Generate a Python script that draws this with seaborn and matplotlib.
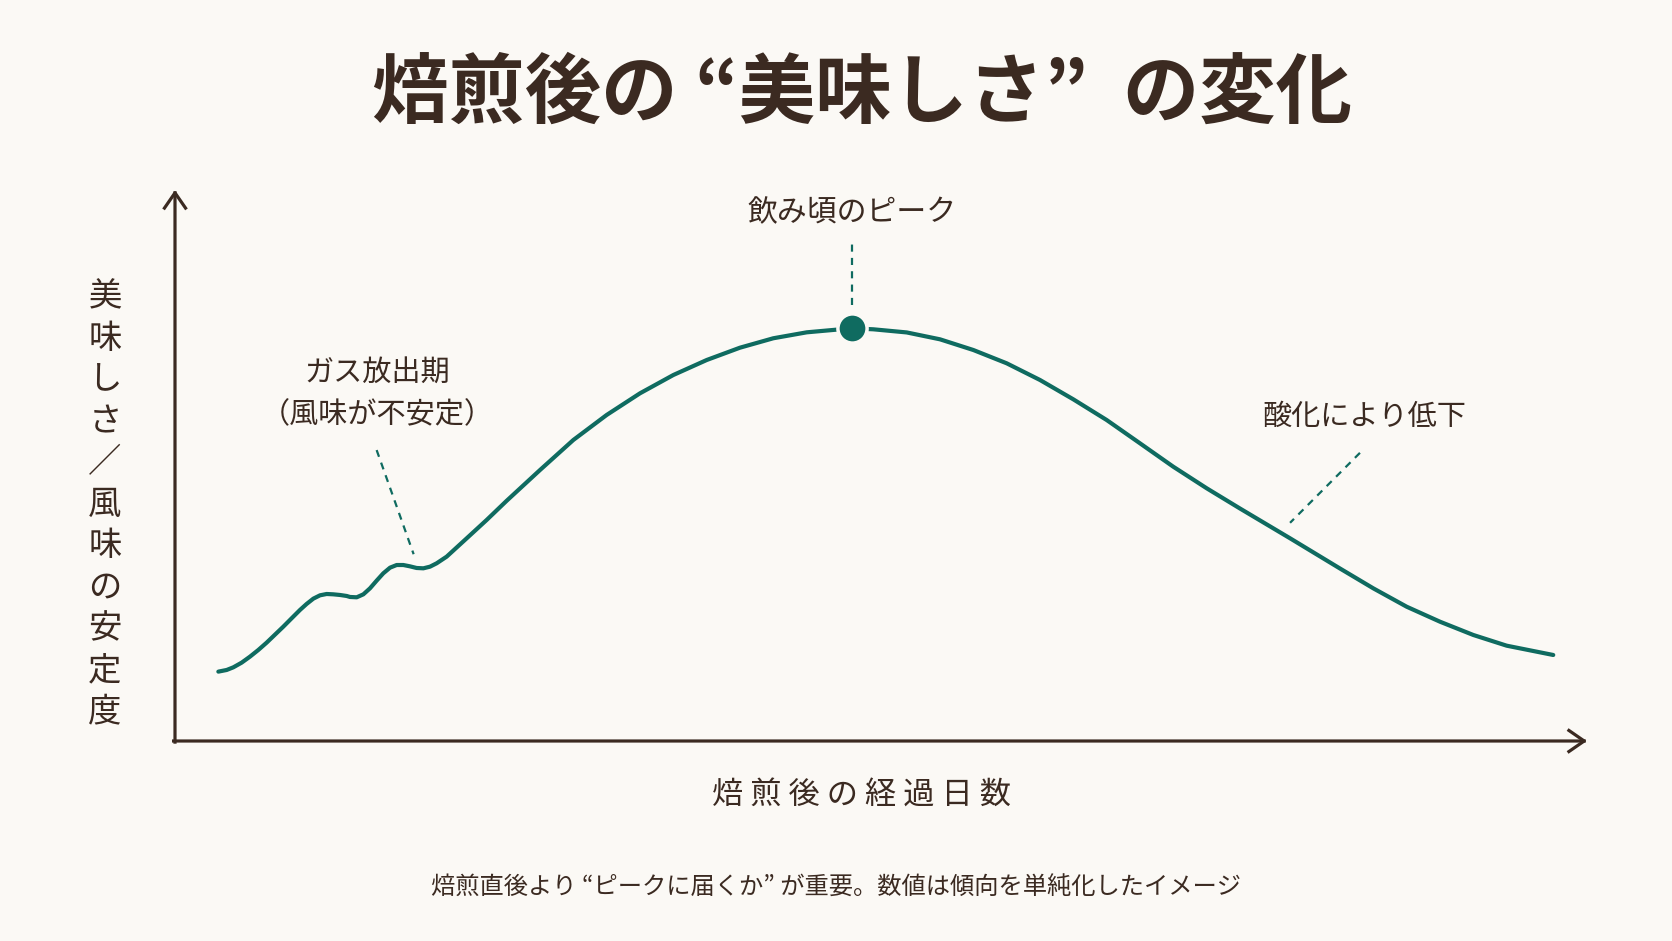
import numpy as np
import pandas as pd
import matplotlib
matplotlib.use("Agg")
import matplotlib.pyplot as plt
import seaborn as sns

# ---------------- data ----------------
days = [3.07, 3.66, 4.13, 4.72, 5.31, 5.90, 6.49, 7.08, 7.67, 8.26, 8.85,
        9.32, 9.80, 10.27, 10.74, 11.21, 11.69, 12.16, 12.39, 12.87, 13.34,
        13.81, 14.28, 14.75, 15.23, 15.70, 16.17, 16.64, 17.11, 17.59, 18.06,
        18.53, 19.24, 20.66, 22.07, 23.49,
        25.85, 28.21, 30.57, 32.93, 35.29, 37.66, 40.01, 42.37, 44.74, 47.92,
        49.45, 51.82, 54.18, 56.54, 58.90, 61.26, 63.62, 65.98, 68.34, 70.70,
        73.07, 75.42, 78.97, 82.51, 84.87, 87.23, 89.59, 91.95, 94.31,
        97.61]
score = [12.59, 12.89, 13.37, 14.22, 15.31, 16.52, 17.85, 19.30, 20.75, 22.27,
         23.78, 24.87, 25.84, 26.44, 26.68, 26.62, 26.50, 26.32, 26.14, 26.08,
         26.62, 27.71, 29.10, 30.43, 31.46, 31.94, 31.94, 31.70, 31.40, 31.34,
         31.64, 32.25, 33.46, 36.79, 40.11, 43.60,
         49.18, 54.63, 59.17, 63.10, 66.42, 69.15, 71.38, 73.09, 74.17, 74.90,
         74.72, 74.15, 72.90, 70.96, 68.55, 65.52, 62.01, 58.26, 54.03, 49.78,
         45.86, 42.20, 36.79, 31.30, 27.70, 24.37, 21.65, 19.24, 17.30,
         15.61]

title_text = "焙煎後の “美味しさ”  の変化"
xlabel_text = "焙煎後の経過日数"
ylabel_text = "美味しさ／風味の安定度"
peak_label = "飲み頃のピーク"
gas_label = ["ガス放出期", "（風味が不安定）"]
oxid_label = "酸化により低下"
footnote_text = "焙煎直後より “ピークに届くか” が重要。数値は傾向を単純化したイメージ"

# ---------------- style ----------------
BG = "#FBF9F5"
INK = "#3B2A21"
TEAL = "#0F6B60"

sns.set_theme(style="white")
plt.rcParams["font.family"] = ["Noto Sans CJK JP", "DejaVu Sans"]

df = pd.DataFrame({"days": days, "score": score})

W, H = 1672, 941
fig = plt.figure(figsize=(W / 100, H / 100), dpi=100, facecolor=BG)

# axes spanning from the y axis (x=175px) to the x-arrow tip, bottom at 741px, top at 190px
L, R, B, T = 175, 1587, 741, 190
ax = fig.add_axes([L / W, 1 - B / H, (R - L) / W, (B - T) / H])
ax.set_facecolor(BG)
ax.set_xlim(0, 100)
ax.set_ylim(0, 100)
for s in ax.spines.values():
    s.set_visible(False)
ax.set_xticks([])
ax.set_yticks([])

# axis arrows
arrow_kw = dict(arrowstyle="->,head_length=0.55,head_width=0.38", color=INK,
                lw=2.3, shrinkA=0, shrinkB=0, mutation_scale=20,
                capstyle="projecting")
ax.annotate("", xy=(1, 0), xytext=(-0.001, 0), xycoords="axes fraction",
            textcoords="axes fraction", arrowprops=arrow_kw, annotation_clip=False)
ax.annotate("", xy=(0, 1), xytext=(0, -0.002), xycoords="axes fraction",
            textcoords="axes fraction", arrowprops=arrow_kw, annotation_clip=False)

# main curve
sns.lineplot(data=df, x="days", y="score", ax=ax, color=TEAL, lw=3.0,
             legend=False)
for ln in ax.lines:
    ln.set_solid_joinstyle("round")
    ln.set_solid_capstyle("round")
ax.set_xlabel("")
ax.set_ylabel("")

# peak point
i_peak = int(np.argmax(score))
px, py = days[i_peak], score[i_peak]
ax.plot([px], [py], "o", ms=21, color=TEAL, mec=BG, mew=2.5, zorder=5)

# dashed leader lines
dash_kw = dict(color=TEAL, lw=1.6, dashes=(3.2, 2.8), zorder=3)
ax.plot([px, px], [py + 4.2, py + 15.5], **dash_kw)
ax.plot([14.28, 16.9], [52.8, 33.9], **dash_kw)
ax.plot([83.92, 78.97], [52.3, 39.6], **dash_kw)

# annotation texts
ax.text(px, 95.8, peak_label, ha="center", va="center", fontsize=21.5, color=INK)
ax.text(14.34, 66.8, gas_label[0], ha="center", va="center", fontsize=21, color=INK)
ax.text(14.34, 59.2, gas_label[1], ha="center", va="center", fontsize=21, color=INK)
ax.text(84.2, 58.9, oxid_label, ha="center", va="center", fontsize=21, color=INK)

# title
fig.text(862 / W, 1 - 94 / H, title_text, ha="center", va="center",
         fontsize=55, fontweight="bold", color=INK)

# x label (letter-spaced)
fig.text(862 / W, 1 - 796 / H, " ".join(xlabel_text), ha="center", va="center",
         fontsize=22.5, color=INK)

# y label: stacked vertically, one character per row
y0, step = 297, 41.5
for k, ch in enumerate(ylabel_text):
    fig.text(105 / W, 1 - (y0 + k * step) / H, ch, ha="center", va="center",
             fontsize=24, color=INK)

# footnote
fig.text(836 / W, 1 - 888 / H, footnote_text, ha="center", va="center",
         fontsize=17.5, color=INK)

fig.savefig("out.png", dpi=100, facecolor=BG)
